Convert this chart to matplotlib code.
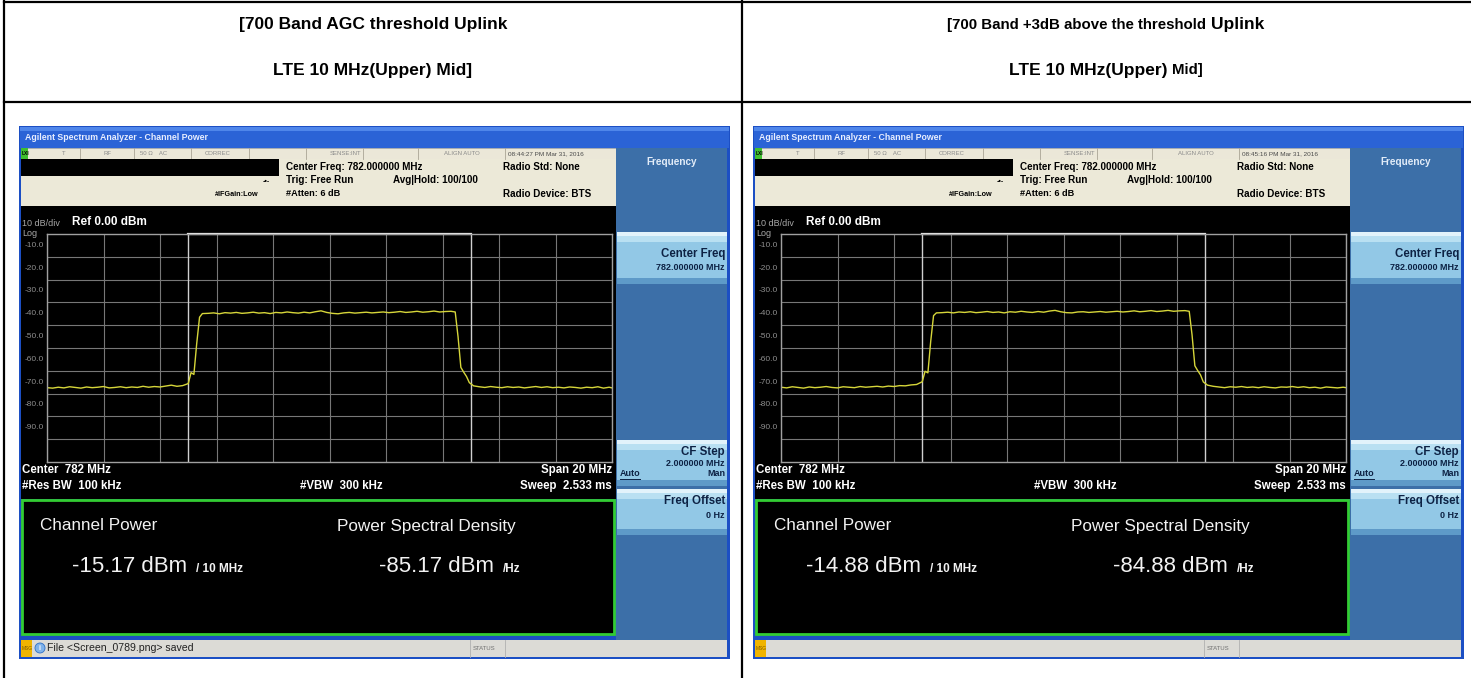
import matplotlib
matplotlib.use("Agg")
import numpy as np
import matplotlib.pyplot as plt
from matplotlib.patches import Rectangle, Circle
import matplotlib.transforms as mtransforms

plt.rcParams['font.family'] = ['Liberation Sans', 'DejaVu Sans']

# ------------------- Data -----------------------------------------------------------
freq_mhz = [772.0, 772.2, 772.4, 772.6, 772.8, 773.0, 773.2, 773.4, 773.6, 773.8,
            774.0, 774.2, 774.4, 774.6, 774.8, 775.0, 775.2, 775.4, 775.6, 775.8,
            776.0, 776.2, 776.4, 776.6, 776.8,
            777.0, 777.1, 777.2, 777.3, 777.4, 777.5,
            777.7, 777.9, 778.1, 778.3, 778.5, 778.7, 778.9, 779.1, 779.3, 779.5,
            779.7, 779.9, 780.1, 780.3, 780.5, 780.7, 780.9, 781.1, 781.3, 781.5,
            781.7, 781.9, 782.1, 782.3, 782.5, 782.7, 782.9, 783.1, 783.3, 783.5,
            783.7, 783.9, 784.1, 784.3, 784.5, 784.7, 784.9, 785.1, 785.3, 785.5,
            785.7, 785.9, 786.1, 786.3,
            786.45, 786.55, 786.65, 786.75, 786.85, 786.95, 787.1,
            787.3, 787.5, 787.7, 787.9, 788.1, 788.3, 788.5, 788.7, 788.9, 789.1,
            789.3, 789.5, 789.7, 789.9, 790.1, 790.3, 790.5, 790.7, 790.9, 791.1,
            791.3, 791.5, 791.7, 791.9, 792.0]

trace_agc_dbm = [-67.4, -67.6, -67.2, -67.5, -67.0, -67.3, -67.6, -67.1, -67.4, -67.2,
                 -66.9, -67.5, -67.3, -67.0, -67.4, -67.1, -67.3, -66.8, -67.2, -66.9,
                 -67.1, -66.7, -66.3, -66.8, -66.5,
                 -65.6, -60.8, -61.6, -48.0, -36.5, -34.9,
                 -34.8, -34.6, -35.0, -34.5, -34.7, -34.4, -34.8, -34.6, -34.3, -34.7,
                 -34.5, -34.9, -34.4, -34.6, -34.2, -34.5, -34.7, -34.3, -34.6, -34.1,
                 -33.7, -34.4, -34.8, -35.0, -34.6, -34.4, -34.7, -34.5, -34.3, -34.6,
                 -34.4, -34.2, -34.5, -34.3, -34.0, -34.4, -34.2, -33.9, -34.3, -34.1,
                 -33.8, -34.2, -34.0, -33.9,
                 -34.2, -45.0, -58.5, -60.6, -62.5, -65.2, -66.6,
                 -67.0, -67.3, -66.9, -67.2, -67.4, -67.0, -67.3, -67.1, -67.5, -67.2,
                 -66.9, -67.3, -67.0, -67.4, -67.2, -67.5, -67.1, -67.3, -67.6, -67.2,
                 -67.4, -67.0, -67.6, -67.2, -67.5]

trace_plus3_dbm = [-67.2, -67.5, -67.0, -67.3, -67.6, -67.1, -67.4, -67.2, -66.9, -67.3,
                   -67.5, -67.0, -67.2, -67.4, -66.9, -67.2, -67.0, -66.8, -67.1, -66.7,
                   -66.9, -66.5, -66.6, -66.2, -66.0,
                   -64.8, -60.2, -60.9, -47.0, -35.8, -34.6,
                   -34.5, -34.3, -34.6, -34.2, -34.4, -34.1, -34.5, -34.3, -34.0, -34.4,
                   -34.2, -34.6, -34.1, -34.3, -33.9, -34.2, -34.4, -34.0, -34.3, -33.8,
                   -33.5, -34.1, -34.5, -34.6, -34.2, -34.1, -34.4, -34.2, -34.0, -34.3,
                   -34.1, -33.9, -34.2, -34.0, -33.7, -34.1, -33.9, -33.6, -34.0, -33.8,
                   -33.5, -33.9, -33.7, -33.6,
                   -33.9, -44.2, -57.8, -59.9, -61.8, -64.9, -66.3,
                   -66.8, -67.1, -67.4, -67.0, -67.2, -66.9, -67.3, -67.1, -67.4, -67.0,
                   -67.3, -67.5, -67.1, -67.2, -66.9, -67.3, -67.0, -67.4, -67.2, -67.6,
                   -67.1, -67.3, -67.5, -67.2, -67.4]

center_mhz = 782
span_mhz = 20
ref_dbm = 0
db_per_div = 10
channel_bw_mhz = 10
level_labels = ['-10.0', '-20.0', '-30.0', '-40.0', '-50.0', '-60.0', '-70.0', '-80.0', '-90.0']
level_values = [-10, -20, -30, -40, -50, -60, -70, -80, -90]

header_left = [[("[700 Band AGC threshold Uplink", 12.5)],
               [("LTE 10 MHz(Upper) Mid]", 12.5)]]
header_right = [[("[700 Band +3dB above the threshold", 10.8), ("Uplink", 12.5)],
                [("LTE 10 MHz(Upper)", 12.5), ("Mid]", 10.8)]]
channel_power = ["-15.17", "-14.88"]
power_density = ["-85.17", "-84.88"]
timestamps = ["08:44:27 PM Mar 31, 2016", "08:45:16 PM Mar 31, 2016"]
messages = ["File <Screen_0789.png> saved", ""]

# ------------------- Canvas: ---------------------------------------------------------
W, H = 1471, 678
fig = plt.figure(figsize=(W / 100, H / 100), dpi=100)
base = fig.add_axes([0, 0, 1, 1])
base.set_xlim(0, W)
base.set_ylim(H, 0)
base.axis('off')


def box(x, y, w, h, fc, ec='none', lw=0, z=1):
    base.add_patch(Rectangle((x, y), w, h, fc=fc, ec=ec, lw=lw, zorder=z))


def txt(x, y, s, size, color='black', weight='normal', ha='left', z=5, **kw):
    return base.text(x, y, s, fontsize=size, color=color, fontweight=weight,
                     ha=ha, va='center', zorder=z, **kw)


def mixed_line(cx, y, pieces):
    # centre a line made of pieces with different font sizes
    r = fig.canvas.get_renderer()
    arts = [txt(0, y, s, fs, weight='bold') for s, fs in pieces]
    widths = [a.get_window_extent(r).width for a in arts]
    gap = 5
    x = cx - (sum(widths) + gap * (len(arts) - 1)) / 2
    for a, w in zip(arts, widths):
        a.set_x(x)
        x += w + gap


# table lines
base.plot([4, 4], [1, H], color='black', lw=1.6)
base.plot([4, W], [1.5, 1.5], color='black', lw=1.6)
base.plot([4, W], [102, 102], color='black', lw=1.6)
base.plot([742, 742], [1, H], color='black', lw=1.6)

for cx, lines in ((373, header_left), (1106, header_right)):
    mixed_line(cx, 25, lines[0])
    mixed_line(cx, 70, lines[1])


def soft_key(dx, y0, h, lines):
    box(dx + 617, y0, 110, h, '#92c8e6', z=2)
    box(dx + 617, y0, 110, 4, '#e2f3fb', z=2)
    box(dx + 617, y0 + 4, 110, 6, '#b9e0f2', z=2)
    box(dx + 617, y0 + h - 6, 110, 6, '#5e9ac8', z=2)
    for (s, yy, size, ha, xx, ul) in lines:
        txt(dx + xx, yy, s, size, color='#0d2244', weight='bold', ha=ha, z=3)
        if ul:
            base.plot([dx + xx, dx + xx + 20], [yy + 5, yy + 5], color='#0d2244', lw=0.7, zorder=3)


def draw_screen(dx, trace, cp, psd, stamp, msg):
    # window frame and title bar
    box(dx + 19, 126, 711, 533, '#1c4fc4')
    box(dx + 20, 127, 709, 21, '#2b63d6')
    box(dx + 20, 127, 709, 4, '#4f86ea')
    txt(dx + 25, 138, "Agilent Spectrum Analyzer - Channel Power", 6.3, color='#e8eeff', weight='bold')

    # status row
    box(dx + 21, 148, 595, 11, '#ebe7d8', ec='#b8b4a6', lw=0.5, z=2)
    box(dx + 21, 148, 7, 11, '#3fbf2f', z=3)
    txt(dx + 22, 153.5, "LXI", 3.5, color='black', weight='bold', z=4)
    for sx in (80, 134, 191, 249, 306, 363, 418, 505):
        base.plot([dx + sx, dx + sx], [148, 159], color='#aaa596', lw=0.6, zorder=3)
    for sx, s in ((62, "T"), (104, "RF"), (140, "50 Ω    AC"), (205, "CORREC"),
                  (330, "SENSE:INT"), (444, "ALIGN AUTO")):
        txt(dx + sx, 153.5, s, 4.3, color='#8a8a8a', z=4)
    txt(dx + 508, 153.5, stamp, 4.6, color='#4a4a4a', z=4)

    # info area
    box(dx + 21, 159, 595, 47, '#ece9d8', z=2)
    box(dx + 21, 159, 258, 17, 'black', z=3)
    txt(dx + 286, 167, "Center Freq: 782.000000 MHz", 7.1, weight='bold', z=4)
    txt(dx + 286, 180, "Trig: Free Run", 7.1, weight='bold', z=4)
    txt(dx + 393, 180, "Avg|Hold: 100/100", 7.1, weight='bold', z=4)
    txt(dx + 286, 193, "#Atten: 6 dB", 6.6, weight='bold', z=4)
    txt(dx + 215, 195, "#IFGain:Low", 5.2, weight='bold', z=4)
    txt(dx + 263, 182, "-\u2022-", 5.0, weight='bold', z=4)
    txt(dx + 503, 167, "Radio Std: None", 7.1, weight='bold', z=4)
    txt(dx + 503, 194, "Radio Device: BTS", 7.1, weight='bold', z=4)

    # trace panel background
    box(dx + 21, 206, 595, 293, 'black', z=2)
    txt(dx + 22, 223, "10 dB/div", 6.5, color='#a8a8a8', z=4)
    txt(dx + 72, 222, "Ref 0.00 dBm", 8.5, color='white', weight='bold', z=4)
    txt(dx + 22, 233, "Log", 6.5, color='#a8a8a8', z=4)

    px0, px1, py0, py1 = dx + 47, dx + 612, 234, 462
    ax = fig.add_axes([px0 / W, 1 - py1 / H, (px1 - px0) / W, (py1 - py0) / H])
    ax.set_facecolor('black')
    ax.set_xlim(center_mhz - span_mhz / 2, center_mhz + span_mhz / 2)
    ax.set_ylim(ref_dbm - 10 * db_per_div, ref_dbm)
    ax.set_xticks(np.arange(center_mhz - span_mhz / 2, center_mhz + span_mhz / 2 + 0.1, span_mhz / 10))
    ax.set_yticks(level_values)
    ax.grid(True, color='#777777', lw=0.8)
    ax.tick_params(length=0, labelbottom=False, labelleft=False)
    for sp in ax.spines.values():
        sp.set_color('#a0a0a0')
        sp.set_linewidth(1.0)
    lo, hi = center_mhz - channel_bw_mhz / 2, center_mhz + channel_bw_mhz / 2
    ax.axvline(lo, color='#d0d0d0', lw=1.0)
    ax.axvline(hi, color='#d0d0d0', lw=1.0)
    ax.plot([lo, hi], [ref_dbm, ref_dbm], color='#eeeeee', lw=1.6, clip_on=False)
    ax.plot(freq_mhz, trace, color='#d6d63a', lw=1.0)
    tr = mtransforms.blended_transform_factory(ax.transAxes, ax.transData)
    for v, lbl in zip(level_values, level_labels):
        ax.text(-0.006, v + 5, lbl, transform=tr, ha='right', va='center', fontsize=6, color='#8e8e8e')

    txt(dx + 22, 470, "Center  782 MHz", 8.3, color='white', weight='bold', z=4)
    txt(dx + 22, 486, "#Res BW  100 kHz", 8.3, color='white', weight='bold', z=4)
    txt(dx + 300, 486, "#VBW  300 kHz", 8.3, color='white', weight='bold', z=4)
    txt(dx + 612, 470, "Span 20 MHz", 8.3, color='white', weight='bold', ha='right', z=4)
    txt(dx + 612, 486, "Sweep  2.533 ms", 8.3, color='white', weight='bold', ha='right', z=4)

    # result box
    box(dx + 22, 500, 592, 134, 'black', ec='#33cc33', lw=2.0, z=3)
    txt(dx + 40, 526, "Channel Power", 12.3, color='#f2f2f2', z=4)
    txt(dx + 337, 526, "Power Spectral Density", 12.3, color='#f2f2f2', z=4)
    txt(dx + 72, 567, cp + " dBm", 16, color='#f2f2f2', z=4)
    txt(dx + 196, 569, "/ 10 MHz", 8.5, color='#f2f2f2', weight='bold', z=4)
    txt(dx + 379, 567, psd + " dBm", 16, color='#f2f2f2', z=4)
    txt(dx + 503, 569, "/Hz", 8.5, color='#f2f2f2', weight='bold', z=4)

    # soft key panel
    box(dx + 616, 148, 111, 492, '#3c6fa8', z=2)
    txt(dx + 672, 162, "Frequency", 7.2, color='#e2ecf8', weight='bold', ha='center', z=3)
    soft_key(dx, 232, 52, [("Center Freq", 254, 8.3, 'right', 725, False),
                           ("782.000000 MHz", 268, 6.5, 'right', 725, False)])
    soft_key(dx, 440, 46, [("CF Step", 452, 8.3, 'right', 725, False),
                           ("2.000000 MHz", 463, 6.5, 'right', 725, False),
                           ("Man", 474, 6.5, 'right', 725, False),
                           ("Auto", 474, 6.5, 'left', 620, True)])
    soft_key(dx, 489, 46, [("Freq Offset", 501, 8.3, 'right', 725, False),
                           ("0 Hz", 515, 6.5, 'right', 725, False)])

    # status bar
    box(dx + 21, 640, 706, 17, '#dcdbd6', z=2)
    box(dx + 21, 640, 11, 17, '#f0b400', z=3)
    txt(dx + 22, 648, "MSG", 3.5, color='#7a5a00', z=4)
    base.plot([dx + 470, dx + 470], [640, 657], color='#b0b0b0', lw=0.6, zorder=3)
    base.plot([dx + 505, dx + 505], [640, 657], color='#b0b0b0', lw=0.6, zorder=3)
    txt(dx + 473, 648, "STATUS", 4.3, color='#707070', z=4)
    if msg:
        base.add_patch(Circle((dx + 40, 648), 5, fc='#7fb2ea', ec='#2d6fc8', lw=0.6, zorder=4))
        txt(dx + 40, 648, "i", 5, color='white', weight='bold', ha='center', z=5)
        txt(dx + 47, 648, msg, 7.6, color='#222222', z=4)


draw_screen(0, trace_agc_dbm, channel_power[0], power_density[0], timestamps[0], messages[0])
draw_screen(734, trace_plus3_dbm, channel_power[1], power_density[1], timestamps[1], messages[1])

fig.savefig("out.png", dpi=100)
